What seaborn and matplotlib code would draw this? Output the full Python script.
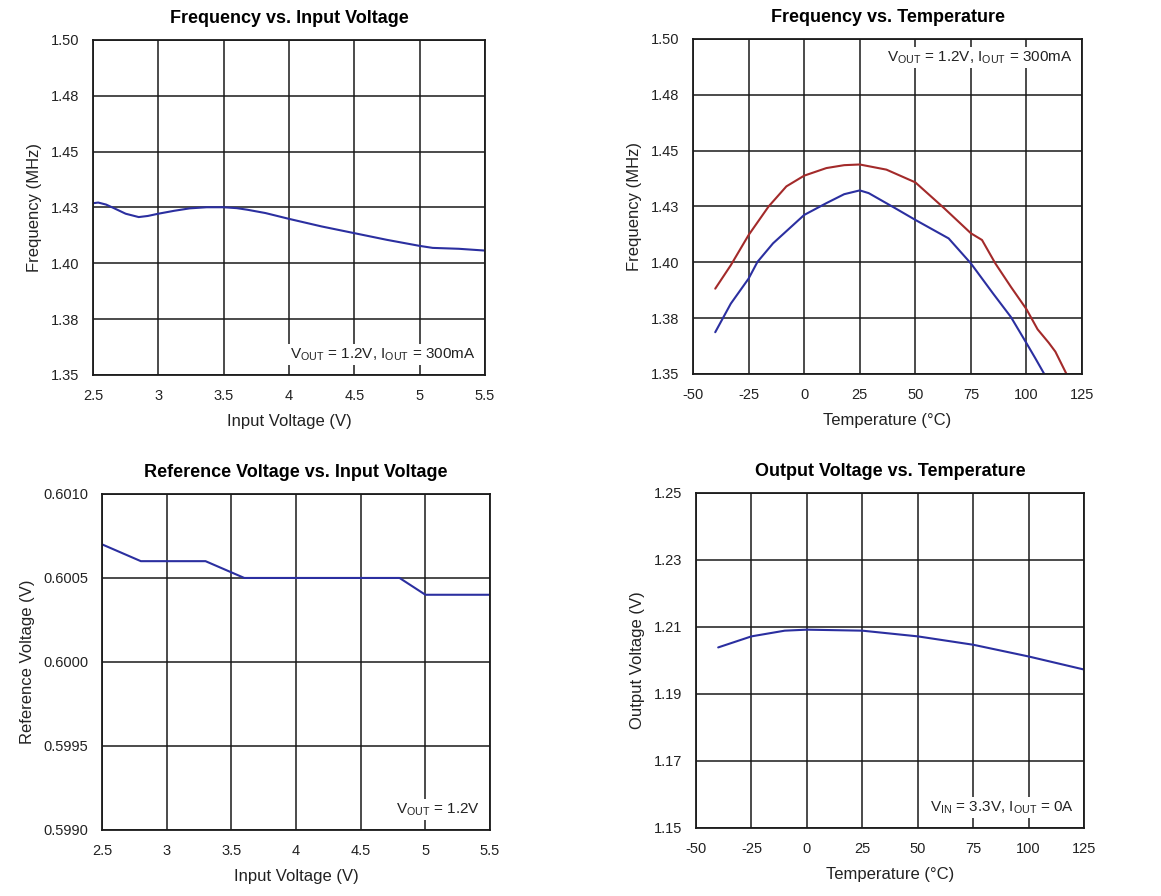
import matplotlib
matplotlib.use("Agg")
import matplotlib.pyplot as plt
import seaborn as sns

sns.set_theme(style="white")
plt.rcParams["font.family"] = ["Liberation Sans", "DejaVu Sans"]

# Frequency vs. input voltage
vin_freq = [2.5, 2.54, 2.6, 2.66, 2.75, 2.85, 2.92, 3.0, 3.12, 3.24, 3.37, 3.5, 3.6, 3.68,
            3.82, 4.0, 4.25, 4.5, 4.75, 5.0, 5.1, 5.3, 5.5]
freq_vin = [1.4269, 1.4272, 1.4263, 1.4247, 1.4222, 1.4207, 1.4212, 1.4222, 1.4235,
            1.4246, 1.4251, 1.4251, 1.4247, 1.4240, 1.4225, 1.4199, 1.4165, 1.4135,
            1.4105, 1.4078, 1.4069, 1.4065, 1.4057]

# Frequency vs. temperature (two curves)
temp_red = [-40, -33, -25, -16, -8, 0, 10, 18, 25, 37, 50, 63, 75, 80, 86, 93, 100,
            105, 110, 113, 118]
freq_red = [1.3882, 1.3987, 1.4122, 1.4250, 1.4340, 1.4388, 1.4422, 1.4435, 1.4438,
            1.4415, 1.4358, 1.4242, 1.4130, 1.4100, 1.3995, 1.3890, 1.3790, 1.3700,
            1.3640, 1.3600, 1.3500]
temp_blue = [-40, -33, -25, -21, -14, 0, 10, 18, 25, 29, 41, 50, 65, 75, 85, 93, 100,
             104, 108]
freq_blue = [1.3687, 1.3815, 1.3927, 1.4002, 1.4085, 1.4212, 1.4265, 1.4305, 1.4322,
             1.4310, 1.4242, 1.4190, 1.4107, 1.3995, 1.3860, 1.3755, 1.3638, 1.3570,
             1.3500]

# Reference voltage vs. input voltage
vin_ref = [2.5, 2.8, 3.3, 3.6, 4.8, 5.0, 5.5]
vref = [0.60070, 0.60060, 0.60060, 0.60050, 0.60050, 0.60040, 0.60040]

# Output voltage vs. temperature
temp_vout = [-40, -25, -10, 0, 25, 50, 75, 100, 125]
vout = [1.2039, 1.2072, 1.2089, 1.2092, 1.2089, 1.2072, 1.2047, 1.2012, 1.1973]

freq_ticks = [1.35, 1.375, 1.40, 1.425, 1.45, 1.475, 1.50]
freq_labels = ["1.35", "1.38", "1.40", "1.43", "1.45", "1.48", "1.50"]
vin_ticks = [2.5, 3, 3.5, 4, 4.5, 5, 5.5]
vin_labels = ["2.5", "3", "3.5", "4", "4.5", "5", "5.5"]
temp_ticks = [-50, -25, 0, 25, 50, 75, 100, 125]
vref_ticks = [0.5990, 0.5995, 0.6000, 0.6005, 0.6010]
vref_labels = ["0.5990", "0.5995", "0.6000", "0.6005", "0.6010"]
vout_ticks = [1.15, 1.17, 1.19, 1.21, 1.23, 1.25]
vout_labels = ["1.15", "1.17", "1.19", "1.21", "1.23", "1.25"]

BLUE = "#2b2fa0"
RED = "#a32a2a"
TEXT = "#222222"

fig = plt.figure(figsize=(11.61, 8.96), dpi=100)
fig.patch.set_facecolor("white")


def style_axes(ax, title, xlabel, ylabel, xticks, xlabels, yticks, ylabels):
    ax.set_xlim(xticks[0], xticks[-1])
    ax.set_ylim(yticks[0], yticks[-1])
    ax.set_xticks(xticks)
    ax.set_xticklabels(xlabels)
    ax.set_yticks(yticks)
    ax.set_yticklabels(ylabels)
    ax.grid(True, color="#1a1a1a", linewidth=1.1)
    ax.set_axisbelow(True)
    for s in ax.spines.values():
        s.set_visible(True)
        s.set_color("#1a1a1a")
        s.set_linewidth(1.3)
    ax.tick_params(length=0, labelsize=10.5, labelcolor=TEXT, pad=10)
    ax.set_title(title, fontsize=13, fontweight="bold", pad=12, color="black")
    ax.set_xlabel(xlabel, fontsize=12, color=TEXT, labelpad=8)
    ax.set_ylabel(ylabel, fontsize=12, color=TEXT, labelpad=6)
    ax.set_facecolor("white")


def note(ax, x, y, s, ha):
    ax.text(x, y, s, transform=ax.transAxes, ha=ha, va="center", fontsize=11,
            color=TEXT, bbox=dict(facecolor="white", edgecolor="none", pad=1.5), zorder=5)


ax1 = fig.add_axes([0.0801, 0.5815, 0.3376, 0.3739])
sns.lineplot(x=vin_freq, y=freq_vin, ax=ax1, color=BLUE, linewidth=1.5)
style_axes(ax1, "Frequency vs. Input Voltage", "Input Voltage (V)", "Frequency (MHz)",
           vin_ticks, vin_labels, freq_ticks, freq_labels)
note(ax1, 0.975, 0.06, r"V$_{\mathregular{OUT}}$ = 1.2V, I$_{\mathregular{OUT}}$ = 300mA", "right")

ax2 = fig.add_axes([0.5969, 0.5826, 0.3351, 0.3739])
sns.lineplot(x=temp_red, y=freq_red, ax=ax2, color=RED, linewidth=1.5)
sns.lineplot(x=temp_blue, y=freq_blue, ax=ax2, color=BLUE, linewidth=1.5)
style_axes(ax2, "Frequency vs. Temperature", "Temperature (\u00b0C)", "Frequency (MHz)",
           temp_ticks, [str(t) for t in temp_ticks], freq_ticks, freq_labels)
note(ax2, 0.975, 0.945, r"V$_{\mathregular{OUT}}$ = 1.2V, I$_{\mathregular{OUT}}$ = 300mA", "right")

ax3 = fig.add_axes([0.0879, 0.0737, 0.3342, 0.375])
sns.lineplot(x=vin_ref, y=vref, ax=ax3, color=BLUE, linewidth=1.5)
style_axes(ax3, "Reference Voltage vs. Input Voltage", "Input Voltage (V)",
           "Reference Voltage (V)", vin_ticks, vin_labels, vref_ticks, vref_labels)
note(ax3, 0.975, 0.06, r"V$_{\mathregular{OUT}}$ = 1.2V", "right")

ax4 = fig.add_axes([0.5995, 0.0759, 0.3342, 0.3739])
sns.lineplot(x=temp_vout, y=vout, ax=ax4, color=BLUE, linewidth=1.5)
style_axes(ax4, "Output Voltage vs. Temperature", "Temperature (\u00b0C)", "Output Voltage (V)",
           temp_ticks, [str(t) for t in temp_ticks], vout_ticks, vout_labels)
note(ax4, 0.975, 0.06, r"V$_{\mathregular{IN}}$ = 3.3V, I$_{\mathregular{OUT}}$ = 0A", "right")

fig.savefig("out.png", dpi=100, facecolor="white")
